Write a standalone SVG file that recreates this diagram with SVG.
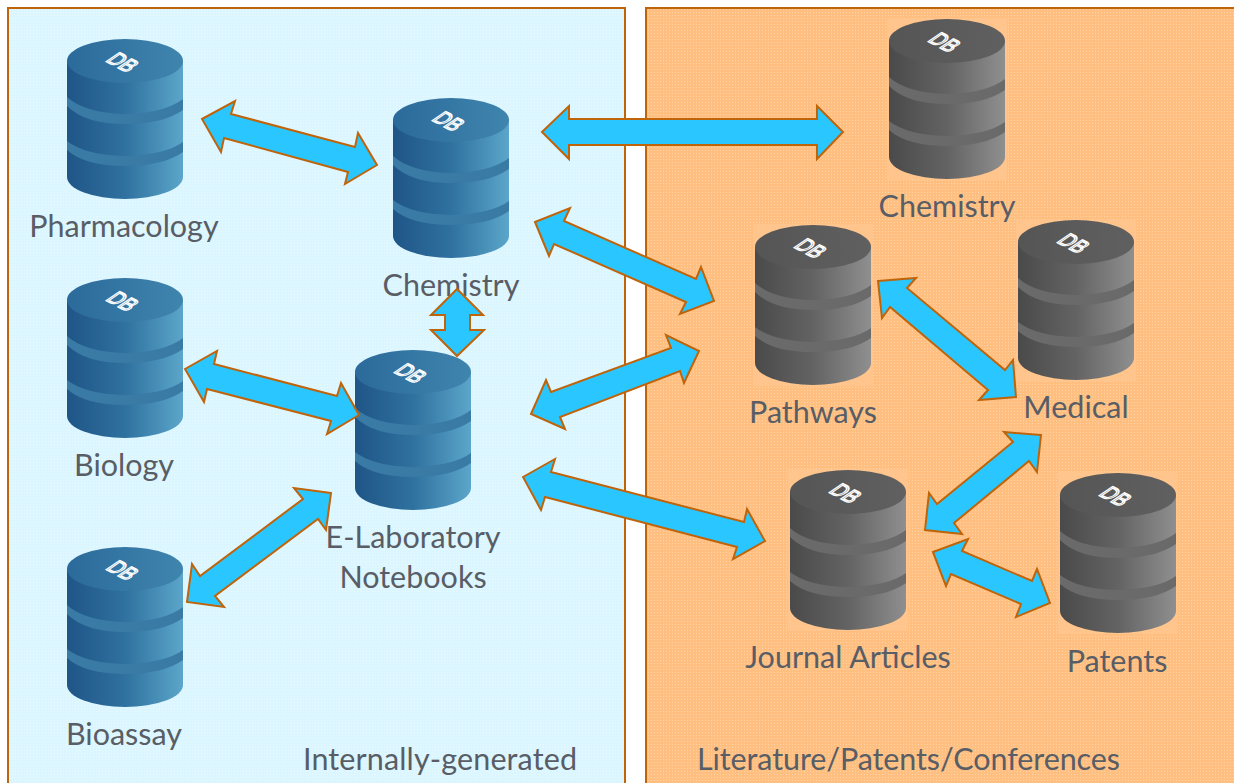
<svg xmlns="http://www.w3.org/2000/svg" xmlns:xlink="http://www.w3.org/1999/xlink" width="1234" height="783" viewBox="0 0 1234 783">
<style>
text{font-family:"Lato","Open Sans","Liberation Sans",sans-serif;font-size:30.5px;fill:#585d66}
.m{text-anchor:middle}
.db{font-family:"Liberation Sans",sans-serif;font-size:17px;fill:#ffffff;fill-opacity:.15;stroke:#ffffff;stroke-width:1.1;text-anchor:middle}
.panel{stroke:#c0640a;stroke-width:2}
.arrow{fill:#29c6ff;stroke:#c0640a;stroke-width:2;stroke-linejoin:miter}
</style>
<defs>
<pattern id="dotB" width="3" height="3" patternUnits="userSpaceOnUse"><rect width="3" height="3" fill="#dcf6ff"/><rect width="1" height="1" fill="#e8f9ff"/></pattern>
<pattern id="dotO" width="3" height="3" patternUnits="userSpaceOnUse"><rect width="3" height="3" fill="#ffbf80"/><rect width="1" height="1" fill="#ffd3a6"/></pattern>
<linearGradient id="bodyB"><stop offset="0" stop-color="#1f5587"/><stop offset=".5" stop-color="#2f719f"/><stop offset="1" stop-color="#5ba6ca"/></linearGradient>
<linearGradient id="topB"><stop offset="0" stop-color="#2b6a9a"/><stop offset="1" stop-color="#3f85ae"/></linearGradient>
<linearGradient id="bodyG"><stop offset="0" stop-color="#4a4a4a"/><stop offset=".5" stop-color="#636363"/><stop offset="1" stop-color="#8f8f8f"/></linearGradient>
<linearGradient id="topG"><stop offset="0" stop-color="#555555"/><stop offset="1" stop-color="#606060"/></linearGradient>
<path id="bands" d="M0 58Q18 74 58 75Q98 74 116 60V71Q96 85 58 85Q18 85 0 67ZM0 102Q18 116 58 117Q98 116 116 103V113Q96 127 58 127Q18 127 0 111Z"/>
<symbol id="cylB" width="116" height="160" viewBox="0 0 116 160" overflow="visible">
<path d="M0 22V138A58 22 0 0 0 116 138V22Z" fill="url(#bodyB)"/>
<use xlink:href="#bands" href="#bands" fill="#3a7ba6"/>
<ellipse cx="58" cy="22" rx="58" ry="22" fill="url(#topB)"/>
</symbol>
<symbol id="cylG" width="116" height="160" viewBox="0 0 116 160" overflow="visible">
<rect x="-2" y="-1" width="120" height="162" fill="#ffc58c"/>
<path d="M0 22V138A58 22 0 0 0 116 138V22Z" fill="url(#bodyG)"/>
<use xlink:href="#bands" href="#bands" fill="#6a6a6a"/>
<ellipse cx="58" cy="22" rx="58" ry="22" fill="url(#topG)"/>
</symbol>
</defs>
<rect width="1234" height="783" fill="#ffffff"/>
<g id="panel-internal"><rect class="panel" x="8" y="8" width="617" height="790" fill="url(#dotB)"/><text x="303" y="770" textLength="274">Internally-generated</text></g>
<g id="panel-external"><rect class="panel" x="646" y="8" width="600" height="790" fill="url(#dotO)"/><text x="697" y="770" textLength="423">Literature/Patents/Conferences</text></g>

<g id="node-pharmacology" transform="translate(67 39)"><use href="#cylB" xlink:href="#cylB"/><text class="db" transform="matrix(.95 .5 -1.15 .8 49 28)">DB</text><text class="m" x="57" y="198">Pharmacology</text></g>
<g id="node-chemistry-int" transform="translate(393 98)"><use href="#cylB" xlink:href="#cylB"/><text class="db" transform="matrix(.95 .5 -1.15 .8 49 28)">DB</text><text class="m" x="58" y="198">Chemistry</text></g>
<g id="node-biology" transform="translate(67 278)"><use href="#cylB" xlink:href="#cylB"/><text class="db" transform="matrix(.95 .5 -1.15 .8 49 28)">DB</text><text class="m" x="57" y="198">Biology</text></g>
<g id="node-eln" transform="translate(355 350)"><use href="#cylB" xlink:href="#cylB"/><text class="db" transform="matrix(.95 .5 -1.15 .8 49 28)">DB</text><text class="m" x="58" y="198">E-Laboratory</text><text class="m" x="58" y="238">Notebooks</text></g>
<g id="node-bioassay" transform="translate(67 547)"><use href="#cylB" xlink:href="#cylB"/><text class="db" transform="matrix(.95 .5 -1.15 .8 49 28)">DB</text><text class="m" x="57" y="198">Bioassay</text></g>
<g id="node-chemistry-ext" transform="translate(889 19)"><use href="#cylG" xlink:href="#cylG"/><text class="db" transform="matrix(.95 .5 -1.15 .8 49 28)">DB</text><text class="m" x="58" y="198">Chemistry</text></g>
<g id="node-pathways" transform="translate(755 225)"><use href="#cylG" xlink:href="#cylG"/><text class="db" transform="matrix(.95 .5 -1.15 .8 49 28)">DB</text><text class="m" x="58" y="198">Pathways</text></g>
<g id="node-medical" transform="translate(1018 220)"><use href="#cylG" xlink:href="#cylG"/><text class="db" transform="matrix(.95 .5 -1.15 .8 49 28)">DB</text><text class="m" x="58" y="198">Medical</text></g>
<g id="node-journal" transform="translate(790 470)"><use href="#cylG" xlink:href="#cylG"/><text class="db" transform="matrix(.95 .5 -1.15 .8 49 28)">DB</text><text class="m" x="58" y="198">Journal Articles</text></g>
<g id="node-patents" transform="translate(1060 473)"><use href="#cylG" xlink:href="#cylG"/><text class="db" transform="matrix(.95 .5 -1.15 .8 49 28)">DB</text><text class="m" x="57" y="199">Patents</text></g>

<g id="connectors">
<polygon class="arrow" points="202,119 235,101 231,114 355,147 358,133 377,165 345,184 348,172 224,138 221,152"/>
<polygon class="arrow" points="542,132 569,106 569,119 817,119 817,106 843,132 817,159 817,145 569,145 569,159"/>
<polygon class="arrow" points="535,222 570,208 564,221 696,279 701,267 714,301 680,314 686,302 554,244 549,256"/>
<polygon class="arrow" points="457,289 483,315 470,315 470,330 484,330 457,356 431,330 445,330 445,315 431,315"/>
<polygon class="arrow" points="531,414 546,380 551,392 671,348 666,335 699,351 684,383 680,371 560,417 565,429"/>
<polygon class="arrow" points="523,477 555,459 551,472 744,522 747,509 765,541 733,559 737,547 545,497 541,510"/>
<polygon class="arrow" points="185,369 217,351 214,364 337,396 341,383 359,415 327,434 331,421 207,389 204,402"/>
<polygon class="arrow" points="331,493 294,488 303,499 200,576 192,564 187,602 224,607 215,596 318,519 326,530"/>
<polygon class="arrow" points="878,281 916,278 907,288 1005,370 1013,360 1016,397 979,400 988,390 890,307 882,318"/>
<polygon class="arrow" points="1041,435 1004,432 1013,442 937,504 929,493 925,530 962,534 954,523 1029,461 1037,472"/>
<polygon class="arrow" points="933,552 968,539 962,551 1032,581 1037,569 1050,603 1016,617 1021,604 951,574 946,586"/>
</g>
</svg>
